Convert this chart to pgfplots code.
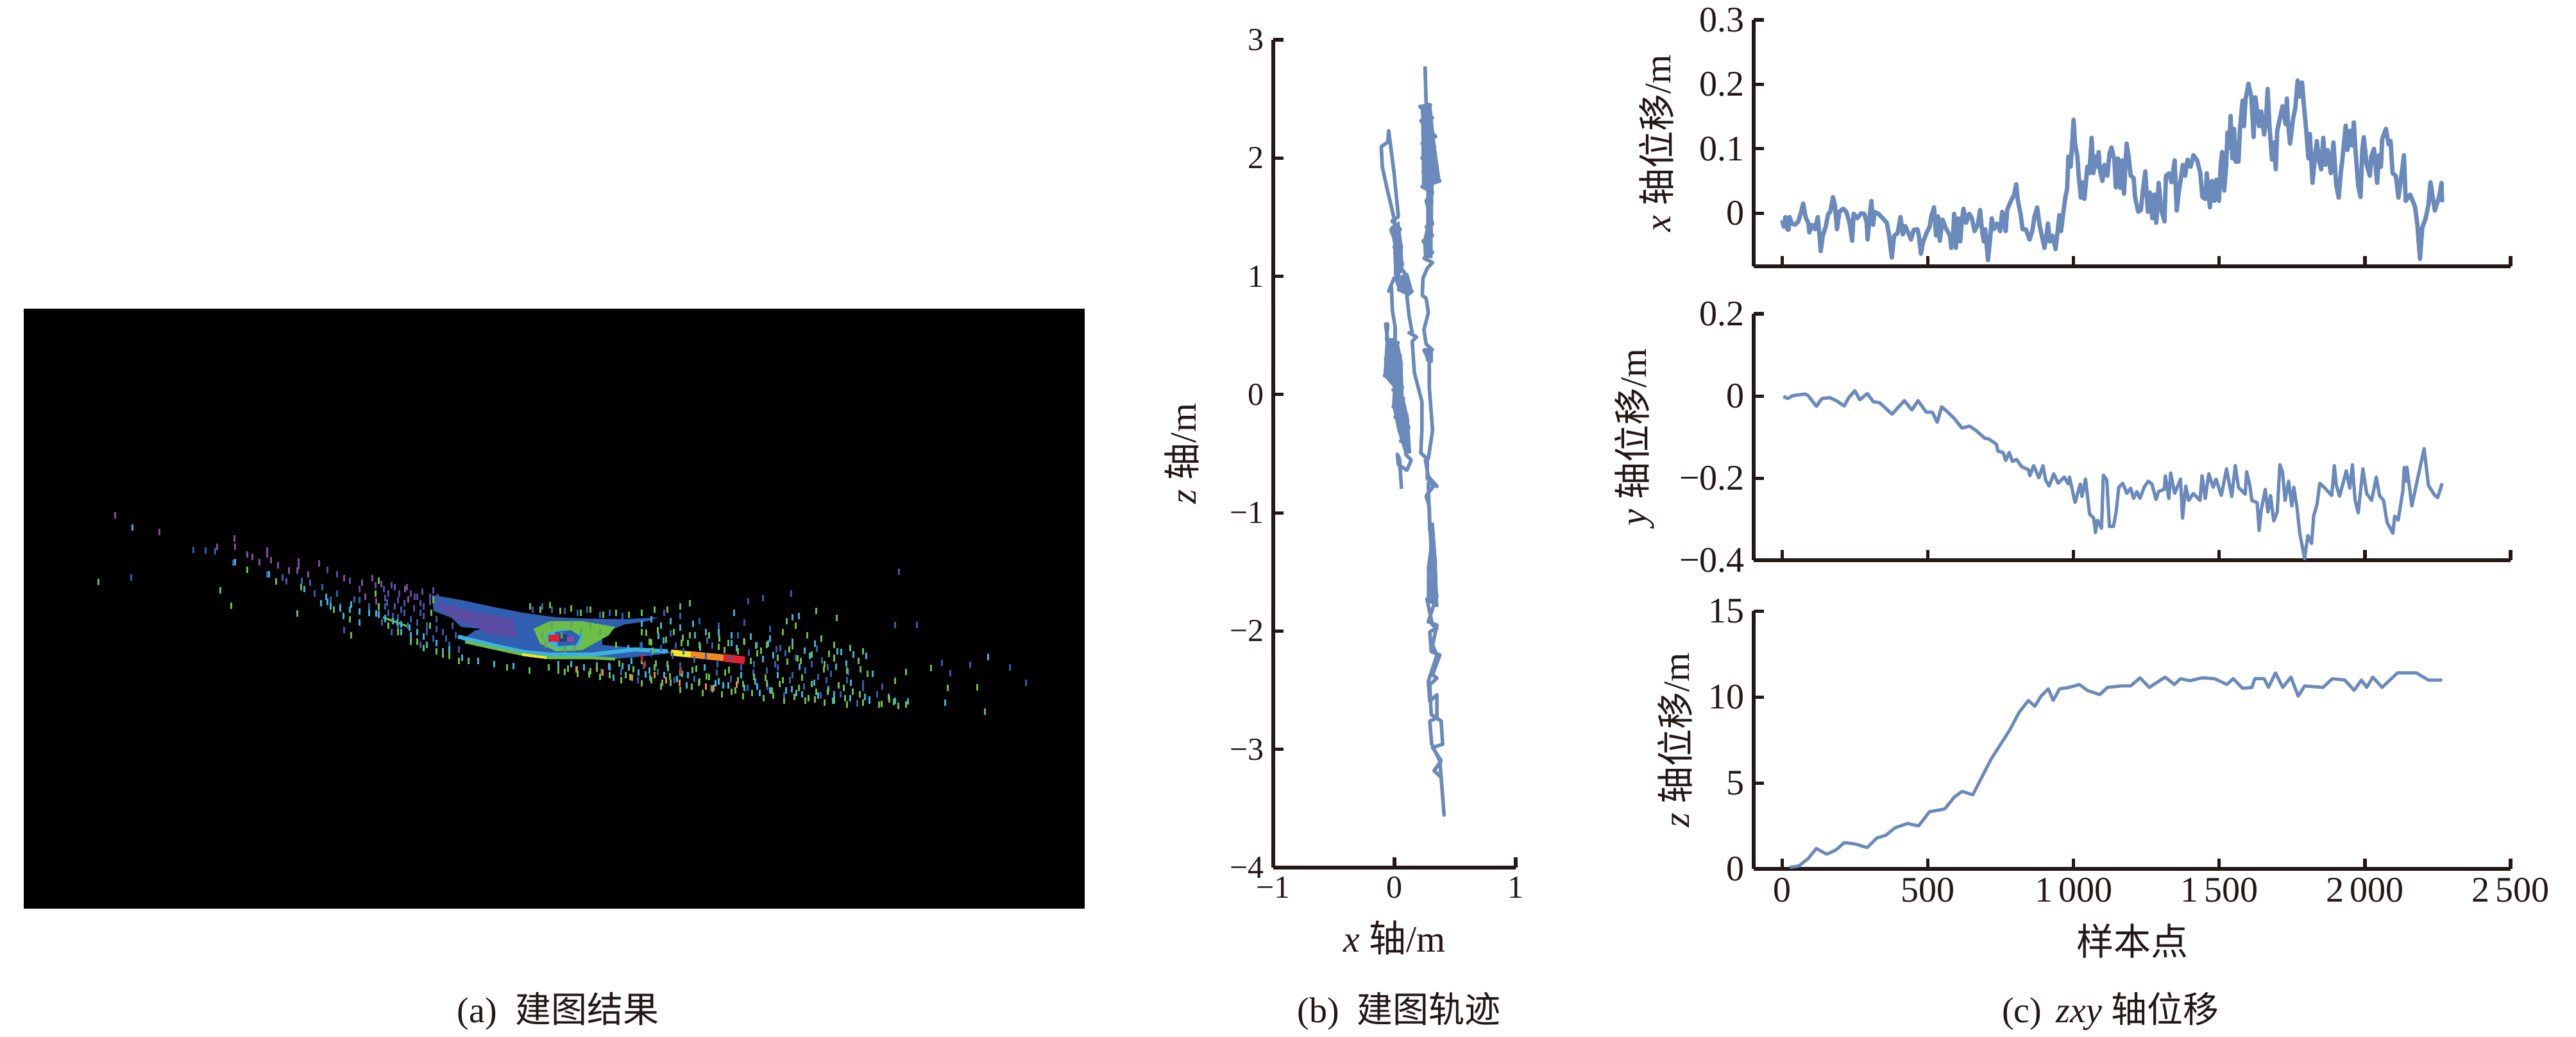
\documentclass[border=0pt]{standalone}
\usepackage{fontspec}
\usepackage{pgfplots}
\pgfplotsset{compat=1.18}
\setmainfont{Liberation Serif}
\newfontfamily\cjk{Noto Sans CJK SC}

\definecolor{axisc}{HTML}{231815}
\definecolor{linec}{RGB}{107,138,188}
\definecolor{cbody}{HTML}{2F5FB0}
\definecolor{cpurple}{HTML}{5B4CA3}
\definecolor{cmag}{HTML}{8A4BA0}
\definecolor{ccyan}{HTML}{38B4E0}
\definecolor{cgreen}{HTML}{6CBE45}
\definecolor{cyellow}{HTML}{F6E61B}
\definecolor{corange}{HTML}{F08A24}
\definecolor{cred}{HTML}{E0202E}

\newcommand{\fsize}[1]{\fontsize{#1}{#1}\selectfont}

\pgfplotsset{
  panel/.style={
    scale only axis,
    axis x line*=bottom, axis y line*=left,
    axis line style={-, line width=1.5pt, color=axisc},
    tick style={line width=1.3pt, color=axisc},
    major tick length=4pt,
    tick align=inside,
    clip=false,
    anchor=south west,
    label style={font=\fsize{14.5}, color=axisc},
    tick label style={color=axisc},
  },
  traj/.style={color=linec, line join=round, no markers},
  cloud/.style={only marks, mark=|, mark size=1.2pt, mark options={line width=.75pt}},
}

\begin{document}
\begin{tikzpicture}[x=1pt,y=1pt]
\path[use as bounding box] (0,0) rectangle (1004,404);

% (a) map result, coordinates read in reference pixels
\begin{axis}[
  at={(9.25pt,50pt)}, anchor=south west, scale only axis,
  width=413.5pt, height=233.75pt,
  xmin=37, xmax=1691, ymin=481, ymax=1416, y dir=reverse,
  hide axis,
]
\addplot[fill=black, draw=none] coordinates {(37,481)(1691,481)(1691,1416)(37,1416)} --cycle;
% blue body
\addplot[fill=cbody, draw=none] coordinates {(673,927)(719,935)(765,945)(816,955)(867,962)(918,964)(974,965)(1026,962)(1010,968)(974,973)(949,983)(939,992)(939,1005)(974,1008)(1020,1013)(1051,1017)(1010,1022)(959,1027)(908,1027)(857,1023)(816,1018)(770,1010)(719,997)(740,983)(750,980)(719,977)(704,963)(676,952)} --cycle;
\addplot[fill=cpurple, draw=none] coordinates {(676,938)(740,953)(800,965)(806,993)(755,987)(745,977)(715,968)(690,952)} --cycle;
% green ring round the centre
\addplot[fill=cgreen, draw=none] coordinates {(832,980)(857,968)(908,968)(959,977)(949,990)(908,1013)(867,1015)(842,1003)} --cycle;
\addplot[fill=ccyan, draw=none] coordinates {(852,987)(878,980)(908,990)(903,1007)(867,1010)(852,1000)} --cycle;
\addplot[fill=cbody, draw=none] coordinates {(865,985)(890,982)(905,992)(898,1005)(870,1007)} --cycle;
\addplot[fill=cred, draw=none] coordinates {(855,989)(872,989)(872,1000)(855,1000)} --cycle;
\addplot[fill=cbody!70!black, draw=none] coordinates {(872,988)(884,988)(884,1000)(872,1000)} --cycle;
\addplot[fill=cmag, draw=none] coordinates {(884,992)(895,992)(895,1000)(884,1000)} --cycle;
% bright edges
\addplot[color=cgreen, line width=.8pt, no markers] coordinates {(597,962)(638,977)};
\addplot[color=ccyan, line width=1.6pt, no markers] coordinates {(714,992)(770,1006)(816,1016)(857,1020)(923,1020)(990,1012)(1041,1015)};
\addplot[color=cgreen, line width=1.2pt, no markers] coordinates {(725,1000)(770,1010)(816,1020)(857,1025)(923,1025)(959,1027)};
\addplot[color=cyellow, line width=1pt, no markers] coordinates {(814,1020)(852,1025)};
\addplot[color=cyellow, line width=2.4pt, no markers] coordinates {(1046,1017)(1077,1020)};
\addplot[color=corange, line width=2.6pt, no markers] coordinates {(1077,1020)(1128,1025)};
\addplot[color=cred, line width=3pt, no markers] coordinates {(1128,1025)(1161,1029)};
% scattered points
\addplot[cloud, color=cmag] coordinates {(179,803)(248,829)(365,839)(366,852)(338,852)(385,864)(416,858)(416,864)(393,868)(404,876)(422,873)(433,881)(465,875)(465,882)(497,878)(463,889)(480,895)(450,889)(536,901)(564,908)(580,901)(594,910)(569,930)(586,937)(636,934)(631,918)};
\addplot[cloud, color=cpurple] coordinates {(605,925)(620,935)(640,925)(655,940)(670,930)(685,945)(700,950)(630,955)(660,960)(710,955)(725,965)(650,930)(675,920)(615,915)
(598,918)(610,912)(622,925)(634,915)(646,930)(658,922)(670,938)(682,930)(694,945)(706,940)(560,918)(545,905)(525,895)(510,888)(585,912)(600,932)(615,945)(630,940)(645,948)(660,945)};
\addplot[cloud, color=cbody] coordinates {(301,857)(320,858)(335,859)(363,877)(204,900)(416,895)(446,906)(483,908)(502,915)(525,925)(552,934)(603,939)(536,982)(1401,891)(1233,925)(1189,932)(1166,937)(1395,974)(1429,974)(1468,1033)(1512,1036)(1574,1040)(1599,1064)(1481,1049)
(600,945)(612,960)(625,950)(640,965)(655,955)(665,975)(680,965)(690,985)(705,975)(620,975)(650,985)(675,995)(700,1005)(715,1012)
(560,935)(575,945)(590,955)(605,955)(620,962)(635,975)(650,970)(665,985)(680,980)(695,995)(710,990)(640,1000)(655,1005)(595,970)(610,985)(470,905)(490,925)(515,935)(530,945)(440,900)
(1000,1005)(1015,1018)(1030,1010)(1048,1022)(1065,1015)(1082,1028)(1100,1022)(1118,1035)(1138,1025)(1155,1040)(1175,1035)(1195,1045)(1212,1040)(1235,1052)(1255,1045)(1275,1055)(1295,1050)(1320,1060)(1345,1065)(1375,1070)(1240,1025)(1265,1035)(1290,1040)(1210,1012)(1180,1005)(1150,990)(1120,975)(1090,968)(1060,960)(1035,955)(1160,970)(1200,980)
(830,950)(845,945)(860,950)(880,952)(900,955)(915,950)(935,958)(950,955)(970,960)
(1045,987)(1102,998)(1159,999)(1216,1010)(1273,1011)
(1053,1006)(1110,1006)(1167,1017)(1224,1018)(1281,1029)(1338,1030)
(998,1006)(1208,1035)(1265,1035)(1322,1047)
(1003,1038)(1060,1037)(1117,1048)(1174,1048)(1231,1060)(1288,1060)(1345,1072)
(968,1047)(1025,1047)(1082,1058)(1139,1058)(1196,1070)(1253,1070)(1310,1082)(1367,1082)
(937,1047)(994,1060)(1051,1060)(1108,1072)(1165,1072)(1222,1084)(1279,1084)(1336,1096)};
\addplot[cloud, color=ccyan] coordinates {(206,822)(366,876)(419,895)(474,918)(508,930)(547,942)(586,956)(619,970)(1540,1024)(1144,955)(1473,1095)(1395,1092)
(640,990)(665,1005)(690,1015)(720,1025)(745,1030)(770,1035)(800,1038)(600,965)(625,985)
(500,940)(515,945)(530,948)(545,950)(560,953)(575,955)(590,958)(600,963)(612,968)(625,973)(638,978)(650,985)(660,992)(680,1002)(700,1012)(510,938)(535,960)(560,970)
(980,1040)(995,1048)(1012,1045)(1035,1052)(1055,1058)(1072,1052)(1090,1062)(1115,1065)(1135,1068)(1160,1072)(1180,1070)(1200,1076)(1225,1076)(1250,1082)(1275,1084)(1300,1082)(1325,1088)(1355,1090)(1385,1086)(1415,1093)
(1000,972)(1015,965)(1030,975)(1045,968)(1060,978)(1080,972)(1100,985)(1120,985)(1140,990)(1170,992)(1200,995)(1235,1000)(1270,1003)(1305,1015)(1330,1020)(1350,1022)(1235,962)(1245,960)
(870,1035)(890,1035)(910,1040)(930,1037)(950,1040)(970,1038)
(1026,991)(1083,990)(1140,1002)(1197,1003)(1254,1014)(1311,1016)
(1034,998)(1091,1009)(1148,1010)(1205,1021)(1262,1022)(1319,1034)
(979,1010)(1189,1027)(1246,1039)(1303,1039)(1360,1050)
(984,1030)(1041,1041)(1098,1040)(1155,1052)(1212,1052)(1269,1064)(1326,1064)
(949,1038)(1006,1051)(1063,1050)(1120,1062)(1177,1062)(1234,1074)(1291,1074)(1348,1086)
(899,1043)(956,1056)(1013,1056)(1070,1068)(1127,1068)(1184,1080)(1241,1080)(1298,1092)(1355,1092)};
\addplot[cloud, color=cgreen] coordinates {(153,907)(343,920)(360,944)(385,888)(430,906)(463,956)(547,990)(469,915)(1272,952)(1304,963)(1535,1109)(1477,1072)(1523,1071)(1395,1061)(1451,1041)(1412,1047)
(590,945)(585,925)(590,905)(675,935)(672,955)(670,975)(650,1000)(680,1015)(730,1030)(790,1040)(825,1045)
(605,975)(620,985)(640,1000)(660,1010)(545,965)(520,950)(690,1020)(700,1022)(715,1030)
(826,945)(842,950)(857,943)(873,952)(890,948)(905,955)(920,950)(940,958)(960,955)(980,958)(1000,955)(1020,950)(1040,950)(1060,945)(1075,940)
(1000,985)(1012,1000)(1025,982)(1038,997)(1050,985)(1062,1002)(1075,990)(1090,1005)(1105,990)(1120,1008)(1135,1002)(1150,1015)(1160,1000)(1180,1018)(1195,1005)(1212,1025)(1230,1012)(1248,1030)(1265,1020)(1285,1035)(1300,1025)(1320,1045)(1338,1030)(1352,1050)
(1226,968)(1240,975)(1220,985)(1258,990)(1280,995)(1300,1005)(1325,1010)(1345,1015)
(855,1040)(870,1045)(885,1042)(900,1050)(920,1046)(935,1055)(950,1052)(968,1060)(985,1056)(1000,1065)(1015,1060)(1030,1070)(1045,1064)(1060,1075)(1078,1070)(1095,1080)(1110,1074)(1125,1082)(1140,1078)(1158,1085)(1172,1080)(1190,1088)(1205,1084)(1222,1092)(1238,1086)(1255,1092)(1270,1090)(1285,1095)(1300,1092)(1320,1098)(1345,1095)(1370,1098)(1400,1100)
(1000,1030)(1020,1040)(1040,1035)(1060,1048)(1085,1042)(1105,1055)(1130,1048)(1150,1060)(1175,1055)(1195,1065)(1220,1060)(1245,1072)(1265,1066)(1290,1078)(1315,1072)(1340,1082)
(1007,986)(1064,994)(1121,995)(1178,1006)(1235,1007)(1292,1019)
(1015,1001)(1072,1002)(1129,1013)(1186,1014)(1243,1026)(1300,1026)
(960,1005)(1017,1014)(1170,1030)(1227,1031)(1284,1043)(1341,1043)
(965,1034)(1022,1034)(1079,1044)(1136,1044)(1193,1056)(1250,1056)(1307,1068)
(930,1042)(987,1043)(1044,1054)(1101,1054)(1158,1066)(1215,1066)(1272,1078)(1329,1078)(1386,1090)
(880,1047)(918,1051)(975,1052)(1032,1064)(1089,1064)(1146,1076)(1203,1076)(1260,1088)(1317,1088)(1374,1097)(1393,1094)(1412,1098)};
\addplot[cloud, color=cgreen!70!cbody] coordinates {(860,975)(875,990)(890,972)(905,985)(920,975)(935,985)(845,990)(850,1005)(880,1012)(895,1010)};
\addplot[cloud, color=corange] coordinates {(898,1043)(939,1048)(982,1055)(1038,1060)(1059,1064)(1100,1070)(1112,1072)(1148,1067)(1020,1052)};
\addplot[cloud, color=cred] coordinates {(1005,1035)(1061,1045)(1000,1025)};
\end{axis}

% (b) trajectory
\begin{axis}[panel,
  at={(496.25pt,66pt)},
  width=94.5pt, height=322.5pt,
  xmin=-1, xmax=1, ymin=-4, ymax=3,
  xtick={-1,0,1}, xticklabels={−1,0,1},
  ytick={-4,-3,-2,-1,0,1,2,3}, yticklabels={−4,−3,−2,−1,0,1,2,3},
  tick label style={font=\fsize{12.5}},
  xlabel={{\itshape x} {\cjk 轴}/m},
  ylabel={{\itshape z} {\cjk 轴}/m},
  xlabel style={at={(axis description cs:0.5,-0.085)}, anchor=center},
  ylabel style={at={(axis description cs:-0.378,0.5)}, anchor=center},
]
% stretches where the trace runs over itself
\addplot[fill=linec, draw=none] coordinates {(.217,2.448)(.305,2.448)(.332,2.170)(.381,1.807)(.323,1.782)(.317,1.443)(.314,1.153)(.243,1.153)(.235,1.298)(.261,1.419)(.261,1.734)(.226,1.758)(.222,2.121)} --cycle;
\addplot[fill=linec, draw=none] coordinates {(-.035,1.419)(.041,1.467)(.067,1.249)(.076,1.032)(-.004,1.007)(-.012,1.274)} --cycle;
\addplot[fill=linec, draw=none] coordinates {(-.004,.983)(.111,1.032)(.155,.874)(.102,.838)(.032,.874)} --cycle;
\addplot[fill=linec, draw=none] coordinates {(-.074,.462)(.032,.450)(.067,.281)(.076,-.010)(.120,-.204)(.138,-.494)(.085,-.506)(.023,-.301)(-.021,-.083)(-.012,.063)(-.092,.160)(-.083,.305)} --cycle;
\addplot[fill=linec, draw=none] coordinates {(.243,.390)(.317,.378)(.317,.269)(.261,.281)} --cycle;
\addplot[fill=linec, draw=none] coordinates {(.267,-1.475)(.350,-1.419)(.362,-1.783)(.267,-1.755)} --cycle;
\addplot[fill=linec, draw=none] coordinates {(.291,-1.083)(.326,-1.083)(.350,-1.419)(.279,-1.475)} --cycle;
\addplot[traj, line width=1.4pt] coordinates {
(.058,-.797)(.041,-.543)(.023,-.506)(.032,-.591)(.102,-.640)(.138,-.555)(.093,-.506)(.111,-.373)(.049,-.397)(.120,-.276)(.032,-.276)(.102,-.167)(.005,-.192)(.085,-.107)(-.012,-.107)(.076,-.034)(.014,-.022)(.067,.063)(-.012,.038)(.049,.111)(-.083,.160)(.032,.184)(-.056,.208)(.058,.256)(-.074,.305)(.049,.329)(-.056,.402)(.032,.438)(-.065,.462)(-.056,.596)(-.074,.596)(-.056,.462)(.005,.462)(.005,.571)(-.018,.717)(-.025,.910)(-.048,.874)(-.004,.983)(.032,1.007)(.032,1.153)(.005,1.298)(-.030,1.395)(.049,1.395)(-.021,1.467)(.032,1.504)(-.004,1.879)(-.048,2.230)(-.056,2.134)(-.109,2.097)(-.101,1.928)(-.065,1.758)(-.004,1.492)(.014,1.395)(.058,1.249)(-.004,1.249)(.067,1.104)(.014,1.080)(.076,1.044)(.111,.959)(.032,.886)(.146,.874)(.102,.838)(.120,.668)(.146,.523)(.120,.523)(.182,.487)(.146,.450)(.164,.184)(.226,-.058)(.226,-.301)(.217,-.494)(.270,-.543)(.270,-.712)(.332,-.761)(.279,-.833)(.261,-.858)(.287,-.950)
(.291,-1.083)(.303,-1.307)(.279,-1.475)(.338,-1.531)(.279,-1.699)(.350,-1.783)(.267,-1.727)(.314,-1.950)(.350,-1.978)(.291,-2.006)(.303,-2.174)(.374,-2.202)(.314,-2.370)(.350,-2.398)(.291,-2.454)(.303,-2.706)(.385,-2.761)(.397,-2.957)(.314,-2.985)(.385,-3.097)(.326,-3.181)(.385,-3.237)(.409,-3.556)
(.374,-3.097)(.307,-2.957)(.291,-2.761)(.350,-2.734)(.350,-2.538)(.291,-2.594)(.279,-2.426)(.350,-2.202)(.314,-2.118)(.350,-1.950)(.279,-1.922)(.350,-1.699)(.279,-1.587)(.338,-1.419)(.291,-1.139)(.279,-.748)(.350,-.776)(.279,-.692)(.255,-.552)
(.279,-.543)(.314,-.301)(.287,.063)(.287,.281)(.243,.378)(.314,.378)(.261,.426)(.243,.547)(.279,.692)(.261,.814)(.229,.838)(.235,.983)(.270,1.068)(.314,1.116)(.243,1.153)(.314,1.201)(.235,1.298)(.314,1.346)(.261,1.419)(.314,1.443)(.261,1.637)(.314,1.710)(.226,1.758)(.376,1.807)(.235,1.879)(.349,1.928)(.226,2.000)(.332,2.097)(.226,2.121)(.340,2.182)(.217,2.315)(.314,2.339)(.208,2.436)(.296,2.448)(.261,2.460)(.252,2.775)
};
\end{axis}

% (c) x displacement
\begin{axis}[panel,
  at={(683.5pt,300.125pt)},
  width=295pt, height=96.1pt,
  xmin=-98, xmax=2500, ymin=-.083, ymax=.3,
  xtick={0,500,1000,1500,2000,2500}, xticklabels={},
  ytick={0,.1,.2,.3}, yticklabels={0,0.1,0.2,0.3},
  tick label style={font=\fsize{14}},
  ylabel={{\itshape x} {\cjk 轴位移}/m},
  ylabel style={at={(axis description cs:-0.1288,0.5)}, anchor=center},
]
\addplot[traj, line width=1.7pt] coordinates {
(0,-.011)(5,-.021)(11,-.006)(17,-.025)(22,-.026)(25,-.006)(33,-.016)(44,-.018)(55,-.013)(63,-.001)(72,.015)(80,-.006)(90,-.016)(93,-.030)(102,-.018)(112,-.025)(122,-.006)(128,-.035)(132,-.059)(139,-.035)(149,-.021)(158,-.001)(165,.002)(174,.025)(181,.012)(188,-.025)(196,.002)(209,.007)(220,.002)(231,-.015)(240,-.043)(245,-.001)(257,-.008)(271,0)(282,-.001)(290,-.015)(293,-.041)(301,-.001)(306,.019)(312,-.018)(317,.002)(330,-.001)(345,-.008)(359,-.015)(367,-.035)(376,-.069)(384,-.035)(396,-.031)(406,-.006)(414,-.033)(422,-.020)(433,-.031)(442,-.041)(451,-.026)(464,-.025)(469,-.035)(476,-.063)(484,-.044)(495,-.031)(506,-.021)(511,-.006)(521,.009)(528,-.035)(535,-.005)(541,-.043)(550,-.010)(561,-.023)(576,-.035)(580,-.054)(587,-.031)(590,-.001)(596,-.054)(604,-.008)(611,-.044)(616,-.015)(622,.007)(631,-.015)(642,-.001)(651,-.008)(660,-.028)(671,-.018)(679,.005)(686,-.028)(692,-.044)(697,-.025)(706,-.073)(714,-.038)(719,-.008)(726,-.025)(737,-.016)(748,-.028)(755,.002)(767,-.028)(772,.005)(785,.019)(796,.029)(803,.045)(809,.019)(818,-.001)(825,-.025)(836,-.025)(849,-.041)(858,-.028)(866,-.005)(875,.009)(883,-.018)(891,-.035)(900,-.054)(906,-.038)(912,-.016)(919,-.044)(928,-.035)(938,-.056)(946,-.025)(951,-.003)(957,-.028)(965,.002)(972,.025)(978,.039)(982,.088)(990,.072)(1000,.145)(1005,.108)(1013,.088)(1018,.055)(1025,.024)(1031,.048)(1037,.022)(1042,.045)(1047,.072)(1054,.062)(1062,.117)(1068,.062)(1075,.088)(1082,.072)
(1086,.095)(1091,.065)(1099,.050)(1106,.075)(1116,.058)(1123,.092)(1130,.102)(1140,.082)(1145,.040)(1152,.085)(1160,.039)(1167,.082)(1173,.030)(1182,.108)(1189,.088)(1196,.058)(1206,.055)(1211,.025)(1222,.002)(1231,.005)(1237,.032)(1246,.065)(1255,.002)(1262,.032)(1270,-.008)(1277,.029)(1284,-.015)(1292,.047)(1301,.005)(1312,-.013)(1317,.058)(1328,.062)(1336,.048)(1347,.082)(1354,.004)(1361,.032)(1375,.075)(1383,.058)(1391,.083)(1402,.072)(1411,.090)(1424,.082)(1435,.062)(1442,.025)(1453,.022)(1457,.062)(1468,.009)(1475,.050)(1483,.019)(1490,.052)(1499,.019)(1505,.075)(1510,.095)(1517,.035)(1524,.075)(1528,.125)(1534,.101)(1539,.151)(1545,.085)(1551,.131)(1556,.080)(1566,.080)(1571,.131)(1580,.175)(1585,.135)(1590,.176)(1600,.201)(1610,.181)(1618,.118)(1624,.180)(1637,.135)(1644,.158)(1654,.122)(1661,.148)(1666,.193)(1673,.131)(1681,.083)(1688,.110)(1694,.068)(1699,.128)(1710,.151)(1717,.166)(1728,.138)(1732,.178)(1736,.141)(1743,.108)(1754,.148)(1761,.163)(1769,.206)(1776,.181)(1784,.203)(1791,.165)(1798,.131)(1806,.085)(1811,.123)(1820,.047)(1828,.085)(1835,.112)(1842,.082)(1850,.068)(1857,.117)(1864,.075)(1872,.098)(1883,.062)(1892,.110)(1901,.045)(1910,.024)(1917,.062)(1923,.085)(1934,.136)(1940,.098)(1949,.128)(1956,.105)(1962,.141)(1967,.102)(1977,.042)(1985,.025)(1991,.098)(1996,.118)(2006,.075)(2017,.058)(2022,.088)(2031,.100)(2042,.047)(2048,.090)(2055,.072)(2059,.115)(2072,.131)(2081,.107)(2088,.112)(2095,.062)(2106,.058)(2115,.024)(2125,.058)(2134,.090)(2140,.019)
(2155,.029)(2172,.010)(2180,-.018)(2189,-.071)(2197,-.022)(2208,-.009)(2218,.013)(2225,.048)(2240,.004)(2255,.026)(2263,.047)(2265,.017)
};
\end{axis}

% (c) y displacement
\begin{axis}[panel,
  at={(683.5pt,185.625pt)},
  width=295pt, height=96.1pt,
  xmin=-98, xmax=2500, ymin=-.4, ymax=.2,
  xtick={0,500,1000,1500,2000,2500}, xticklabels={},
  ytick={-.4,-.2,0,.2}, yticklabels={−0.4,−0.2,0,0.2},
  tick label style={font=\fsize{14}},
  ylabel={{\itshape y} {\cjk 轴位移}/m},
  ylabel style={at={(axis description cs:-0.1576,0.5)}, anchor=center},
]
\addplot[traj, line width=1.3pt] coordinates {
(4,-.001)(19,-.006)(36,.001)(57,.003)(79,.005)(89,.001)(117,-.025)(136,-.006)(164,-.004)(185,-.011)(213,-.024)(228,-.004)(249,.013)(266,-.009)(292,.006)(313,-.014)(334,-.016)(377,-.044)(419,-.011)(445,-.034)(466,-.011)(494,-.039)(515,-.039)(532,-.064)(547,-.026)(568,-.039)(590,-.054)(617,-.078)(643,-.073)(664,-.083)(696,-.103)
(708,-.104)(735,-.117)(740,-.134)(758,-.137)(767,-.157)(779,-.137)(790,-.159)(804,-.154)(822,-.172)(845,-.179)(850,-.194)(863,-.169)(881,-.199)(895,-.169)(904,-.204)(916,-.219)(932,-.189)(947,-.212)(968,-.197)(982,-.214)(986,-.197)(1005,-.259)(1023,-.214)(1029,-.244)(1041,-.202)(1055,-.287)(1069,-.297)(1075,-.332)(1082,-.302)(1096,-.322)(1102,-.192)(1114,-.204)(1123,-.317)(1137,-.317)(1146,-.282)(1155,-.222)(1169,-.212)(1183,-.237)(1196,-.224)(1206,-.249)(1217,-.232)(1228,-.249)(1242,-.222)(1256,-.207)(1269,-.214)(1283,-.252)(1292,-.232)(1311,-.227)(1315,-.194)(1327,-.249)(1333,-.187)(1347,-.237)(1367,-.202)(1374,-.297)(1385,-.219)(1395,-.254)(1411,-.237)(1434,-.254)(1441,-.194)(1452,-.249)(1464,-.189)(1479,-.222)(1489,-.202)(1507,-.242)(1525,-.177)(1534,-.212)(1543,-.244)(1555,-.169)(1566,-.222)(1589,-.239)(1594,-.184)(1605,-.217)(1612,-.254)(1630,-.259)(1637,-.327)(1644,-.277)(1658,-.227)(1667,-.282)(1676,-.242)(1687,-.304)(1699,-.282)(1708,-.167)(1717,-.184)(1726,-.254)(1738,-.207)(1749,-.267)(1756,-.222)(1767,-.272)(1776,-.332)(1793,-.395)(1804,-.339)(1817,-.359)(1824,-.292)(1836,-.262)(1845,-.212)(1863,-.224)(1886,-.242)(1895,-.169)(1902,-.217)(1913,-.244)(1936,-.182)(1948,-.224)(1957,-.167)(1966,-.252)(1977,-.284)(1984,-.237)(1993,-.177)(2006,-.237)(2023,-.254)(2039,-.197)(2050,-.242)(2064,-.254)(2076,-.307)(2096,-.334)(2102,-.292)(2114,-.302)(2130,-.232)(2135,-.174)(2140,-.207)(2144,-.173)(2161,-.267)(2176,-.217)(2203,-.128)(2218,-.217)(2240,-.242)(2250,-.247)(2265,-.212)
};
\end{axis}

% (c) z displacement
\begin{axis}[panel,
  at={(683.5pt,65.5pt)},
  width=295pt, height=100.4pt,
  xmin=-98, xmax=2500, ymin=0, ymax=15,
  xtick={0,500,1000,1500,2000,2500},
  xticklabels={0,500,1\,000,1\,500,2\,000,2\,500},
  ytick={0,5,10,15},
  tick label style={font=\fsize{14}},
  /pgf/number format/assume math mode=true,
  xlabel={{\cjk 样本点}},
  ylabel={{\itshape z} {\cjk 轴位移}/m},
  xlabel style={at={(axis description cs:0.5,-0.28)}, anchor=center},
  ylabel style={at={(axis description cs:-0.1042,0.5)}, anchor=center},
]
\addplot[traj, line width=1.25pt] coordinates {
(26,.09)(57,.17)(89,.6)(117,1.19)(153,.85)(185,1.11)(213,1.53)(249,1.45)(292,1.24)(324,1.79)(356,1.96)(387,2.39)(430,2.64)(468,2.50)(505,3.32)(558,3.49)(590,4.17)(617,4.51)(654,4.31)(686,5.37)(717,6.39)(749,7.24)(781,8.09)(813,9.11)(845,9.80)(867,9.46)(888,10.05)(913,10.48)(930,9.80)(952,10.48)(984,10.56)(1020,10.73)(1047,10.39)(1090,10.14)(1116,10.56)(1165,10.65)(1196,10.65)(1228,11.12)(1260,10.56)(1314,11.16)(1346,10.73)(1367,11.07)(1399,10.95)(1441,11.12)(1484,11.07)(1526,10.73)(1548,11.07)(1580,10.51)(1612,10.56)(1622,11.07)(1654,11.07)(1669,10.56)(1693,11.41)(1718,10.56)(1746,11.16)(1771,10.05)(1793,10.65)(1856,10.56)(1888,11.07)(1931,10.99)(1963,10.39)(1988,10.99)(2006,10.56)(2027,11.16)(2059,10.56)(2112,11.41)(2176,11.41)(2218,10.99)(2265,10.99)
};
\end{axis}

\node[font=\fsize{14}, color=axisc] at (217.5,10) {(a)\hspace{.5em}{\cjk 建图结果}};
\node[font=\fsize{14}, color=axisc] at (545.25,10) {(b)\hspace{.5em}{\cjk 建图轨迹}};
\node[font=\fsize{14}, color=axisc] at (822.5,10) {(c)\hspace{.4em}{\itshape zxy} {\cjk 轴位移}};
\end{tikzpicture}
\end{document}
